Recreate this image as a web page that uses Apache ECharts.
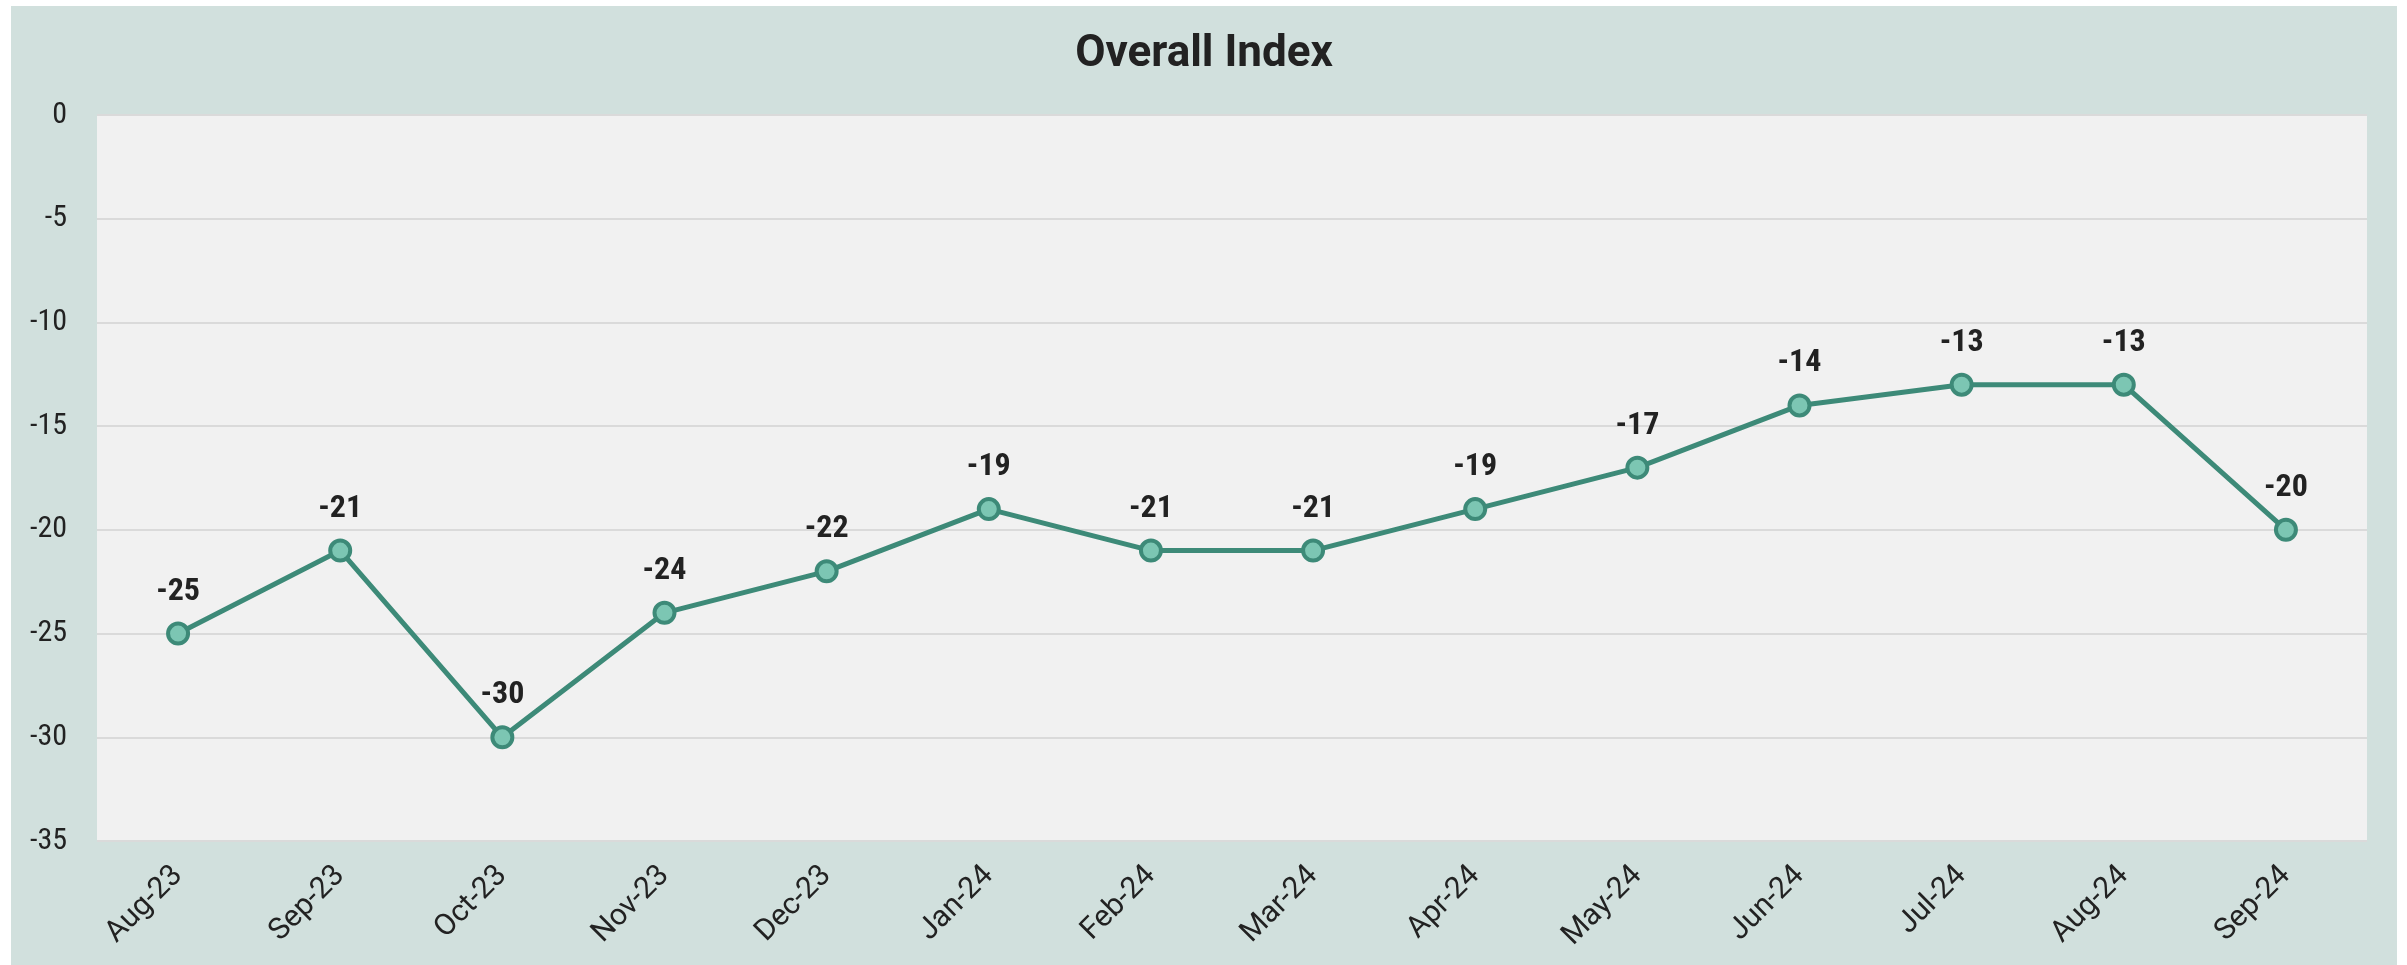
<!DOCTYPE html>
<html>
<head>
<meta charset="utf-8">
<script src="https://cdn.jsdelivr.net/npm/echarts@6/dist/echarts.min.js"></script>
<style>
  html, body { margin: 0; padding: 0; background: #fff; }
  #chart { position: absolute; left: 11px; top: 6px; width: 2386px; height: 959px; }
</style>
</head>
<body>
<div id="chart"></div>
<script>
// months and index values
var months = ['Aug-23', 'Sep-23', 'Oct-23', 'Nov-23', 'Dec-23', 'Jan-24', 'Feb-24', 'Mar-24', 'Apr-24', 'May-24', 'Jun-24', 'Jul-24', 'Aug-24', 'Sep-24'];
var indexValues = [-25, -21, -30, -24, -22, -19, -21, -21, -19, -17, -14, -13, -13, -20];

var condensed = '"Roboto Condensed", "Liberation Sans Narrow", Roboto, sans-serif';
var regular = 'Roboto, "Noto Sans", sans-serif';

var myChart = echarts.init(document.getElementById('chart'));

var option = {
  backgroundColor: '#d1e0dd',
  animation: false,
  title: {
    text: 'Overall Index',
    left: 'center',
    top: 22,
    textStyle: {
      fontFamily: regular,
      fontSize: 44,
      fontWeight: 'bold',
      color: '#222'
    }
  },
  grid: {
    left: 86,
    right: 30,
    top: 109,
    bottom: 124,
    show: true,
    backgroundColor: '#f1f1f1',
    borderWidth: 0
  },
  xAxis: {
    type: 'category',
    data: months,
    boundaryGap: true,
    axisLine: { show: false },
    axisTick: { show: false },
    axisLabel: {
      rotate: 45,
      margin: 30,
      fontFamily: regular,
      fontSize: 30,
      color: '#222'
    }
  },
  yAxis: {
    type: 'value',
    min: -35,
    max: 0,
    interval: 5,
    axisLine: { show: false },
    axisTick: { show: false },
    splitLine: { lineStyle: { color: '#dadada', width: 2 } },
    axisLabel: {
      margin: 30,
      fontFamily: condensed,
      fontSize: 30,
      color: '#222'
    }
  },
  series: [{
    name: 'Overall Index',
    type: 'line',
    data: indexValues,
    symbol: 'circle',
    symbolSize: 20,
    lineStyle: { color: '#3d8a78', width: 5 },
    itemStyle: { color: '#7cc6b3', borderColor: '#3d8a78', borderWidth: 4 },
    label: {
      show: true,
      position: 'top',
      distance: 14,
      fontFamily: condensed,
      fontSize: 32,
      fontWeight: 'bold',
      color: '#222'
    }
  }]
};

myChart.setOption(option);
</script>
</body>
</html>
